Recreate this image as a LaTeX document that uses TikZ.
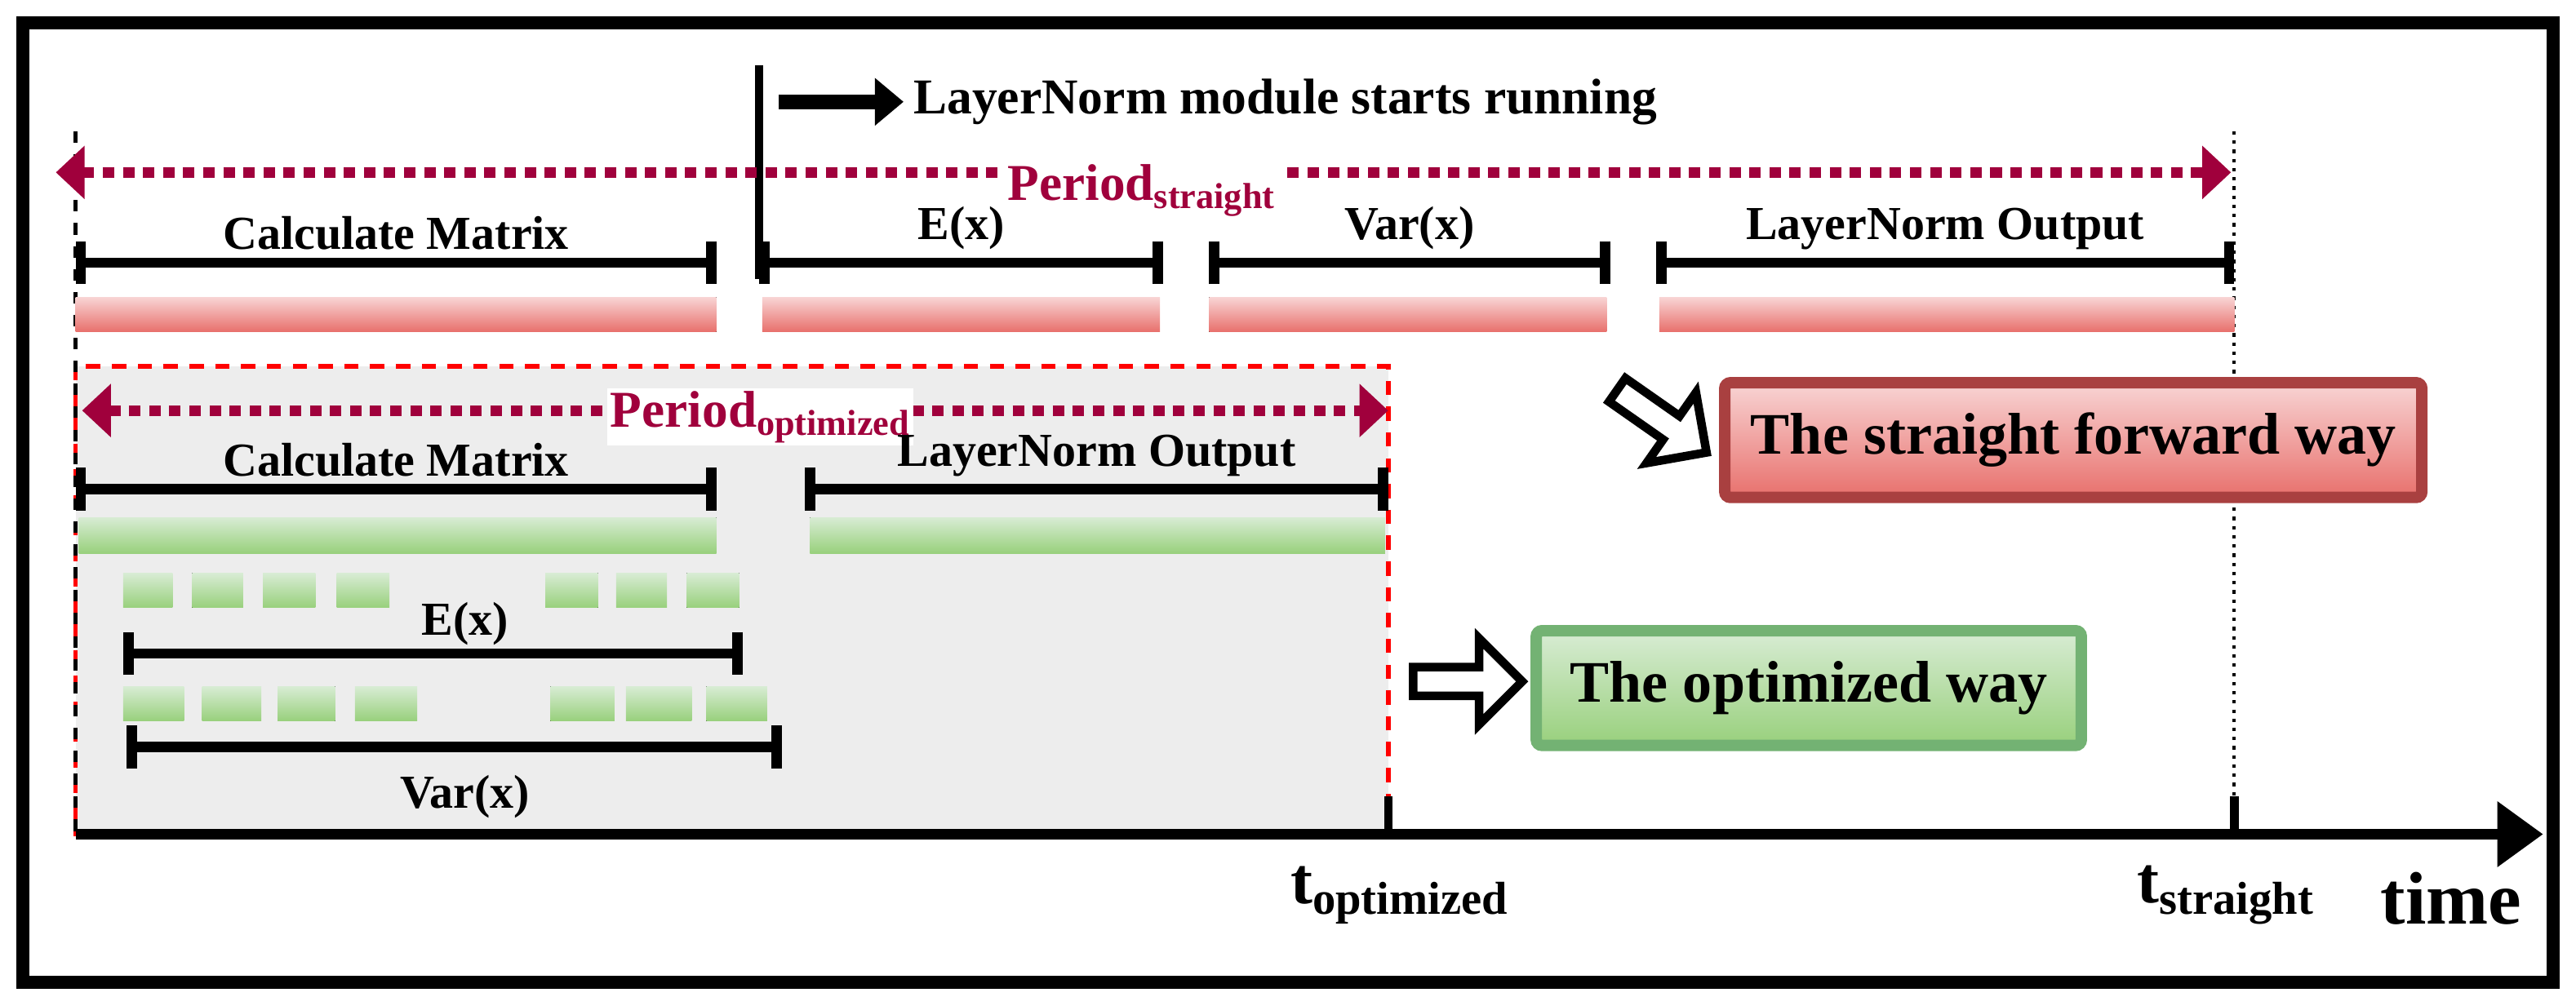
\documentclass[tikz,border=0pt]{standalone}
\usepackage{fontspec}
\setmainfont{Liberation Serif}
\usetikzlibrary{arrows.meta, positioning, shapes.arrows, calc}
\definecolor{periodcol}{HTML}{A0003C}
\definecolor{redtop}{HTML}{F8D4D4}
\definecolor{redbot}{HTML}{E8706C}
\definecolor{greentop}{HTML}{D8ECD4}
\definecolor{greenbot}{HTML}{98D07C}
\begin{document}
\begin{tikzpicture}[x=0.2013mm, y=-0.2013mm,
  every node/.style={align=center, font=\bfseries\fontsize{16.5}{19}\selectfont},
  % Interval bars
  span/.style={line width=3.6pt, {Bar[width=15pt]}-{Bar[width=15pt]}},
  % Shaded work bars
  redbar/.style={top color=redtop, bottom color=redbot, draw=none},
  greenbar/.style={top color=greentop, bottom color=greenbot, draw=none},
  % Period arrows
  periodarrow/.style={draw=periodcol, line width=3.8pt, dash pattern=on 4pt off 3pt, {Triangle[length=10pt, width=18pt, fill=periodcol]}-{Triangle[length=10pt, width=18pt, fill=periodcol]}},
  periodlabel/.style={text=periodcol, font=\bfseries\fontsize{18}{21}\selectfont},
  % Hollow arrows
  hollow/.style={single arrow, draw, line width=3pt, fill=white, minimum height=38pt, minimum width=30pt, single arrow head extend=5pt, inner sep=1pt},
  % Result boxes
  result/.style={rounded corners=2pt, line width=4pt, minimum height=40pt, font=\bfseries\fontsize{20.5}{23}\selectfont},
  tlabel/.style={font=\bfseries\fontsize{23}{25}\selectfont}
]
\useasboundingbox (0,0) rectangle (1568,607);
\draw[line width=4.5pt] (14,14) rectangle (1554,598);

% === Optimized region ===
\draw[red, line width=1.6pt, dash pattern=on 5pt off 4pt, fill=black!7] (46,223) rectangle (845,508);

% === Guides ===
\draw[line width=1.4pt, dash pattern=on 4pt off 4pt] (46,80) -- (46,508);
\draw[line width=1.2pt, dotted] (1360,80) -- (1360,490);
\draw[line width=3pt] (462,40) -- (462,170);
\coordinate (start) at (474,62);
\node[anchor=west, font=\bfseries\fontsize{17.5}{20}\selectfont] (startlbl) at (550,62) {LayerNorm module starts running};
\draw[line width=5pt, -{Triangle[length=10pt, width=16pt]}] (start) -- (startlbl.west);

% === Straight forward way ===
\coordinate (ps0) at (34,105);
\coordinate (ps1) at (1358,105);
\draw[periodarrow] (ps0) -- (ps1);
\node[periodlabel, fill=white, inner sep=1pt] (pslbl) at (695,116) {Period\textsubscript{straight}};

\foreach \a/\b/\txt [count=\i] in {46/436/Calculate Matrix, 462/708/E(x), 736/980/Var(x), 1008/1360/LayerNorm Output}{
  \coordinate (s\i a) at (\a,160);
  \coordinate (s\i b) at (\b,160);
  \draw[span] (s\i a) -- (s\i b);
  \node[above=1pt] (s\i lbl) at ($(s\i a)!0.5!(s\i b)$) {\txt};
}
\foreach \a/\b in {46/436, 464/706, 736/978, 1010/1360}
  \fill[redbar] (\a,181) rectangle (\b,202);

% === Optimized way ===
\coordinate (po0) at (50,250);
\coordinate (po1) at (845,250);
\draw[periodarrow] (po0) -- (po1);
\node[periodlabel, fill=white, inner sep=1pt] (polbl) at (463,254) {Period\textsubscript{optimized}};

\coordinate (o1a) at (46,298);
\coordinate (o1b) at (436,298);
\coordinate (o2a) at (490,298);
\coordinate (o2b) at (845,298);
\draw[span] (o1a) -- (o1b);
\draw[span] (o2a) -- (o2b);
\node[above=1pt] (o1lbl) at ($(o1a)!0.5!(o1b)$) {Calculate Matrix};
\node[above=1pt] (o2lbl) at ($(o2a)!0.5!(o2b)$) {LayerNorm Output};
\fill[greenbar] (48,315) rectangle (436,337);
\fill[greenbar] (493,315) rectangle (843,337);

% small blocks
\foreach \a/\b in {75/105, 117/148, 160/192, 205/237, 332/364, 375/406, 418/450}
  \fill[greenbar] (\a,349) rectangle (\b,370);
\foreach \a/\b in {75/112, 123/159, 169/204, 216/254, 335/374, 381/421, 430/467}
  \fill[greenbar] (\a,418) rectangle (\b,439);

\coordinate (ea) at (75,398);
\coordinate (eb) at (452,398);
\draw[span] (ea) -- (eb);
\node (elbl) at (283,380) {E(x)};
\coordinate (va) at (77,455);
\coordinate (vb) at (476,455);
\draw[span] (va) -- (vb);
\node (vlbl) at (283,485) {Var(x)};

% === Time axis ===
\coordinate (t0) at (46,508);
\coordinate (t1) at (1548,508);
\draw[line width=3.8pt, -{Triangle[length=16pt, width=22pt]}] (t0) -- (t1);
\draw[line width=3pt] (845,485) -- (845,508);
\draw[line width=3pt] (1360,485) -- (1360,508);
\node[tlabel] (topt) at (852,545) {t\textsubscript{optimized}};
\node[tlabel] (tstr) at (1355,545) {t\textsubscript{straight}};
\node[font=\bfseries\fontsize{26}{28}\selectfont] (time) at (1492,547) {time};

% === Results ===
\node[result, draw=red!55!black!75, top color=redtop, bottom color=redbot, minimum width=243pt] (straight) at (1262,268) {The straight forward way};
\node[result, draw=green!45!black!55, top color=greentop, bottom color=greenbot, minimum width=190pt] (optim) at (1101,419) {The optimized way};
\node[hollow, rotate=-35] (h1) at (1008,254) {};
\node[hollow] (h2) at (889,415) {};
\end{tikzpicture}
\end{document}
